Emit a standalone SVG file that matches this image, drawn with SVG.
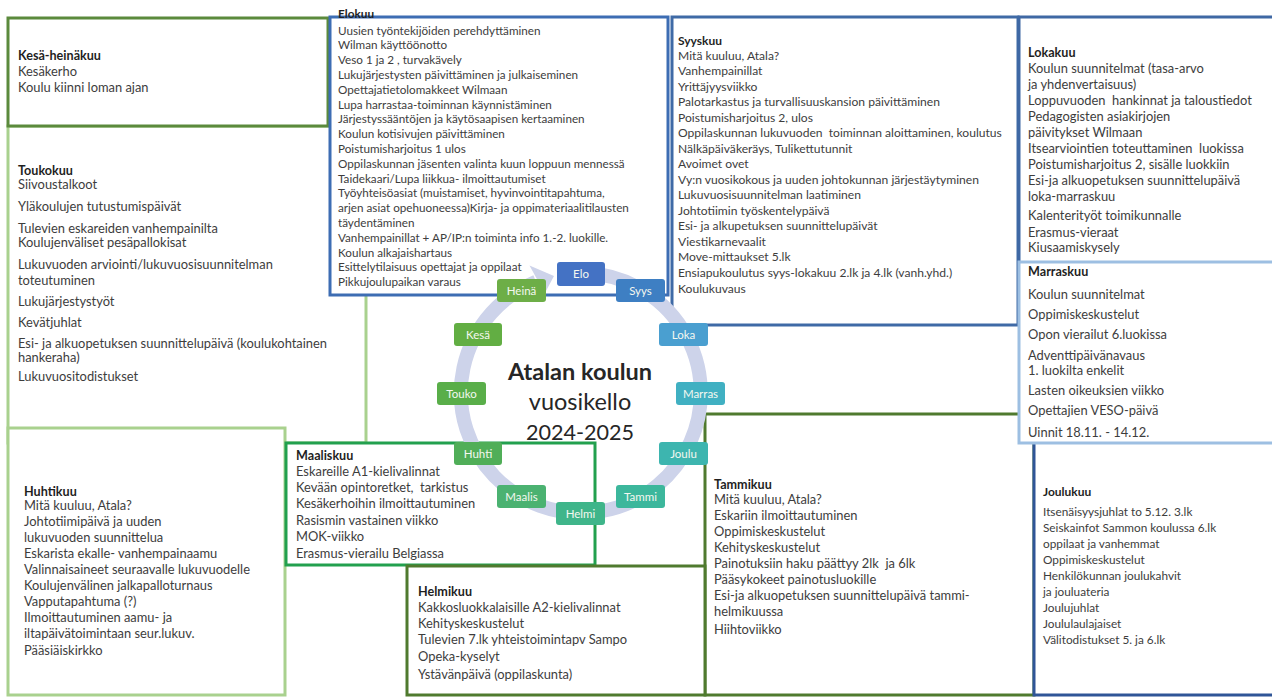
<svg xmlns="http://www.w3.org/2000/svg" width="1272" height="697" viewBox="0 0 1272 697">
<style>
.box{fill:#ffffff;stroke-width:3}
.t{font-family:Lato,"Liberation Sans",sans-serif;font-size:12.9px;fill:#3d3d3d}
.h{font-family:Lato,"Liberation Sans",sans-serif;font-size:12.6px;font-weight:bold;fill:#1f1f1f}
.nd{stroke:none}
.nl{font-family:Lato,"Liberation Sans",sans-serif;font-size:11.5px;fill:#f4f8f0;text-anchor:middle}
.ttl{font-family:Lato,"Liberation Sans",sans-serif;fill:#262626;text-anchor:middle}
</style>
<rect width="1272" height="697" fill="#ffffff"/>

<g id="toukokuu">
<rect class="box" x="8" y="126" width="358" height="317" stroke="#a9d18e"/>
<text class="h" x="18" y="175">Toukokuu</text>
<text class="t"><tspan x="18" y="188.5">Siivoustalkoot</tspan><tspan x="18" y="210.5">Yläkoulujen tutustumispäivät</tspan><tspan x="18" y="232.5">Tulevien eskareiden vanhempainilta</tspan><tspan x="18" y="247">Koulujenväliset pesäpallokisat</tspan><tspan x="18" y="268.5">Lukuvuoden arviointi/lukuvuosisuunnitelman</tspan><tspan x="18" y="284.5">toteutuminen</tspan><tspan x="18" y="305.5">Lukujärjestystyöt</tspan><tspan x="18" y="326.5">Kevätjuhlat</tspan><tspan x="18" y="347.5">Esi- ja alkuopetuksen suunnittelupäivä (koulukohtainen</tspan><tspan x="18" y="361.5">hankeraha)</tspan><tspan x="18" y="380.5">Lukuvuositodistukset</tspan></text>
</g>

<g id="kesa-heinakuu">
<rect class="box" x="8" y="18" width="320" height="108" stroke="#5b8a3c"/>
<text class="h" x="18" y="59.5">Kesä-heinäkuu</text>
<text class="t"><tspan x="18" y="75.5">Kesäkerho</tspan><tspan x="18" y="92">Koulu kiinni loman ajan</tspan></text>
</g>

<g id="huhtikuu">
<rect class="box" x="8" y="428" width="277" height="267" stroke="#a9d18e" stroke-width="2.5"/>
<text class="h" x="24" y="495.5">Huhtikuu</text>
<text class="t"><tspan x="24" y="509.5">Mitä kuuluu, Atala?</tspan><tspan x="24" y="525.5">Johtotiimipäivä ja uuden</tspan><tspan x="24" y="541.5">lukuvuoden suunnittelua</tspan><tspan x="24" y="557.5">Eskarista ekalle- vanhempainaamu</tspan><tspan x="24" y="573.5">Valinnaisaineet seuraavalle lukuvuodelle</tspan><tspan x="24" y="589.5">Koulujenvälinen jalkapalloturnaus</tspan><tspan x="24" y="605.5">Vapputapahtuma (?)</tspan><tspan x="24" y="621.5">Ilmoittautuminen aamu- ja</tspan><tspan x="24" y="637.5">iltapäivätoimintaan seur.lukuv.</tspan><tspan x="24" y="654.5">Pääsiäiskirkko</tspan></text>
</g>

<g id="elokuu">
<rect class="box" x="330" y="17" width="338" height="278" stroke="#3d6db3"/>
<text class="h" x="338" y="18" style="font-size:11.8px">Elokuu</text>
<text class="t" style="font-size:11.7px"><tspan x="338" y="34.5">Uusien työntekijöiden perehdyttäminen</tspan><tspan x="338" y="49.3">Wilman käyttöönotto</tspan><tspan x="338" y="64.1">Veso 1 ja 2 , turvakävely</tspan><tspan x="338" y="78.9">Lukujärjestysten päivittäminen ja julkaiseminen</tspan><tspan x="338" y="93.7">Opettajatietolomakkeet Wilmaan</tspan><tspan x="338" y="108.5">Lupa harrastaa-toiminnan käynnistäminen</tspan><tspan x="338" y="123.3">Järjestyssääntöjen ja käytösaapisen kertaaminen</tspan><tspan x="338" y="138.1">Koulun kotisivujen päivittäminen</tspan><tspan x="338" y="152.9">Poistumisharjoitus 1 ulos</tspan><tspan x="338" y="167.7">Oppilaskunnan jäsenten valinta kuun loppuun mennessä</tspan><tspan x="338" y="182.5">Taidekaari/Lupa liikkua- ilmoittautumiset</tspan><tspan x="338" y="197.3">Työyhteisöasiat (muistamiset, hyvinvointitapahtuma,</tspan><tspan x="338" y="212.1">arjen asiat opehuoneessa)Kirja- ja oppimateriaalitilausten</tspan><tspan x="338" y="226.9">täydentäminen</tspan><tspan x="338" y="241.7">Vanhempainillat + AP/IP:n toiminta info 1.-2. luokille.</tspan><tspan x="338" y="256.5">Koulun alkajaishartaus</tspan><tspan x="338" y="271.3">Esittelytilaisuus opettajat ja oppilaat</tspan><tspan x="338" y="286.1">Pikkujoulupaikan varaus</tspan></text>
</g>

<g id="syyskuu">
<rect class="box" x="672" y="17" width="346" height="308" stroke="#3f6aa6"/>
<text class="h" x="678" y="44.5" style="font-size:12px">Syyskuu</text>
<text class="t" style="font-size:12.1px" xml:space="preserve"><tspan x="678" y="59.5">Mitä kuuluu, Atala?</tspan><tspan x="678" y="75">Vanhempainillat</tspan><tspan x="678" y="90.5">Yrittäjyysviikko</tspan><tspan x="678" y="106">Palotarkastus ja turvallisuuskansion päivittäminen</tspan><tspan x="678" y="121.5">Poistumisharjoitus 2, ulos</tspan><tspan x="678" y="137">Oppilaskunnan lukuvuoden  toiminnan aloittaminen, koulutus</tspan><tspan x="678" y="152.5">Nälkäpäiväkeräys, Tulikettutunnit</tspan><tspan x="678" y="168">Avoimet ovet</tspan><tspan x="678" y="183.5">Vy:n vuosikokous ja uuden johtokunnan järjestäytyminen</tspan><tspan x="678" y="199">Lukuvuosisuunnitelman laatiminen</tspan><tspan x="678" y="214.5">Johtotiimin työskentelypäivä</tspan><tspan x="678" y="230">Esi- ja alkupetuksen suunnittelupäivät</tspan><tspan x="678" y="245.5">Viestikarnevaalit</tspan><tspan x="678" y="261">Move-mittaukset 5.lk</tspan><tspan x="678" y="276.5">Ensiapukoulutus syys-lokakuu 2.lk ja 4.lk (vanh.yhd.)</tspan><tspan x="678" y="293">Koulukuvaus</tspan></text>
</g>

<g id="lokakuu">
<rect class="box" x="1019" y="17" width="260" height="250" stroke="#3f68a4" fill="#fcfdfd"/>
<text class="h" x="1028" y="56.5">Lokakuu</text>
<text class="t" xml:space="preserve"><tspan x="1028" y="72.5">Koulun suunnitelmat (tasa-arvo</tspan><tspan x="1028" y="88.5">ja yhdenvertaisuus)</tspan><tspan x="1028" y="104.5">Loppuvuoden  hankinnat ja taloustiedot</tspan><tspan x="1028" y="120.5">Pedagogisten asiakirjojen</tspan><tspan x="1028" y="136.5">päivitykset Wilmaan</tspan><tspan x="1028" y="152.5">Itsearviointien toteuttaminen  luokissa</tspan><tspan x="1028" y="168.5">Poistumisharjoitus 2, sisälle luokkiin</tspan><tspan x="1028" y="184.5">Esi-ja alkuopetuksen suunnittelupäivä</tspan><tspan x="1028" y="200.5">loka-marraskuu</tspan><tspan x="1028" y="219.5">Kalenterityöt toimikunnalle</tspan><tspan x="1028" y="236.5">Erasmus-vieraat</tspan><tspan x="1028" y="251.5">Kiusaamiskysely</tspan></text>
</g>

<g id="tammikuu">
<rect class="box" x="705" y="414" width="329" height="281" stroke="#4f7a2e"/>
<text class="h" x="714" y="488.5">Tammikuu</text>
<text class="t" xml:space="preserve"><tspan x="714" y="503.5">Mitä kuuluu, Atala?</tspan><tspan x="714" y="519.5">Eskariin ilmoittautuminen</tspan><tspan x="714" y="535.5">Oppimiskeskustelut</tspan><tspan x="714" y="551.5">Kehityskeskustelut</tspan><tspan x="714" y="567.5">Painotuksiin haku päättyy 2lk  ja 6lk</tspan><tspan x="714" y="583.5">Pääsykokeet painotusluokille</tspan><tspan x="714" y="599.5">Esi-ja alkuopetuksen suunnittelupäivä tammi-</tspan><tspan x="714" y="615.5">helmikuussa</tspan><tspan x="714" y="633.5">Hiihtoviikko</tspan></text>
</g>

<g id="joulukuu">
<rect class="box" x="1034" y="438" width="250" height="257" stroke="#2f5597" stroke-width="2.5"/>
<text class="h" x="1043" y="495.5" style="font-size:12px">Joulukuu</text>
<text class="t" style="font-size:11.8px"><tspan x="1043" y="515.5">Itsenäisyysjuhlat to 5.12. 3.lk</tspan><tspan x="1043" y="531.5">Seiskainfot Sammon koulussa 6.lk</tspan><tspan x="1043" y="547.5">oppilaat ja vanhemmat</tspan><tspan x="1043" y="563.5">Oppimiskeskustelut</tspan><tspan x="1043" y="579.5">Henkilökunnan joulukahvit</tspan><tspan x="1043" y="595.5">ja jouluateria</tspan><tspan x="1043" y="611.5">Joulujuhlat</tspan><tspan x="1043" y="627.5">Joululaulajaiset</tspan><tspan x="1043" y="643.5">Välitodistukset 5. ja 6.lk</tspan></text>
</g>

<g id="marraskuu">
<rect class="box" x="1019" y="262" width="260" height="181" stroke="#9dbfe2"/>
<text class="h" x="1028" y="275.5">Marraskuu</text>
<text class="t"><tspan x="1028" y="298.5">Koulun suunnitelmat</tspan><tspan x="1028" y="318.5">Oppimiskeskustelut</tspan><tspan x="1028" y="338.5">Opon vierailut 6.luokissa</tspan><tspan x="1028" y="359.5">Adventtipäivänavaus</tspan><tspan x="1028" y="374.5">1. luokilta enkelit</tspan><tspan x="1028" y="394.5">Lasten oikeuksien viikko</tspan><tspan x="1028" y="414.5">Opettajien VESO-päivä</tspan><tspan x="1028" y="436.5">Uinnit 18.11. - 14.12.</tspan></text>
</g>

<g id="maaliskuu">
<rect class="box" x="286" y="443" width="309" height="122" stroke="#22a04e"/>
<text class="h" x="296" y="459.5">Maaliskuu</text>
<text class="t" xml:space="preserve"><tspan x="296" y="475.5">Eskareille A1-kielivalinnat</tspan><tspan x="296" y="491.5">Kevään opintoretket,  tarkistus</tspan><tspan x="296" y="507.5">Kesäkerhoihin ilmoittautuminen</tspan><tspan x="296" y="524.5">Rasismin vastainen viikko</tspan><tspan x="296" y="540.5">MOK-viikko</tspan><tspan x="296" y="557.5">Erasmus-vierailu Belgiassa</tspan></text>
</g>

<g id="helmikuu">
<rect class="box" x="407" y="566" width="298" height="129" stroke="#4f7a2e"/>
<text class="h" x="418" y="595.5">Helmikuu</text>
<text class="t"><tspan x="418" y="611.5">Kakkosluokkalaisille A2-kielivalinnat</tspan><tspan x="418" y="627.5">Kehityskeskustelut</tspan><tspan x="418" y="643.5">Tulevien 7.lk yhteistoimintapv Sampo</tspan><tspan x="418" y="660.5">Opeka-kyselyt</tspan><tspan x="418" y="678.5">Ystävänpäivä (oppilaskunta)</tspan></text>
</g>

<g id="connectors">
<path d="M585.2 273.1 A120 120 0 1 1 536.0 281.7" fill="none" stroke="#cdd3ea" stroke-width="14"/>
<polygon points="529.5,265.5 554,276 542.5,297.5 538,281" fill="#cdd3ea"/>
</g>

<g id="title">
<text class="ttl" x="580" y="380" font-size="23.5" font-weight="bold">Atalan koulun</text>
<text class="ttl" x="580" y="410" font-size="23.5">vuosikello</text>
<text class="ttl" x="580" y="440" font-size="21.6">2024-2025</text>
</g>

<g id="node-elo"><rect class="nd" x="557" y="262" width="48" height="24" rx="3" fill="#4472c4"/><text class="nl" x="581" y="278">Elo</text></g>
<g id="node-syys"><rect class="nd" x="616" y="279" width="49" height="23" rx="3" fill="#3e7fc3"/><text class="nl" x="640.5" y="295">Syys</text></g>
<g id="node-loka"><rect class="nd" x="659" y="323" width="49" height="23" rx="3" fill="#4a9fd0"/><text class="nl" x="683.5" y="339">Loka</text></g>
<g id="node-marras"><rect class="nd" x="676" y="382" width="49" height="23" rx="3" fill="#40b0c2"/><text class="nl" x="700.5" y="398">Marras</text></g>
<g id="node-joulu"><rect class="nd" x="659" y="442" width="49" height="23" rx="3" fill="#3db5af"/><text class="nl" x="683.5" y="458">Joulu</text></g>
<g id="node-tammi"><rect class="nd" x="616" y="485" width="49" height="23" rx="3" fill="#3cb79c"/><text class="nl" x="640.5" y="501">Tammi</text></g>
<g id="node-helmi"><rect class="nd" x="556" y="502" width="49" height="23" rx="3" fill="#3fb58a"/><text class="nl" x="580.5" y="518">Helmi</text></g>
<g id="node-maalis"><rect class="nd" x="497" y="485" width="49" height="23" rx="3" fill="#4bb271"/><text class="nl" x="521.5" y="501">Maalis</text></g>
<g id="node-huhti"><rect class="nd" x="454" y="442" width="48" height="23" rx="3" fill="#50ae58"/><text class="nl" x="478" y="458">Huhti</text></g>
<g id="node-touko"><rect class="nd" x="437" y="382" width="49" height="23" rx="3" fill="#59ae49"/><text class="nl" x="461.5" y="398">Touko</text></g>
<g id="node-kesa"><rect class="nd" x="454" y="323" width="48" height="23" rx="3" fill="#62ae43"/><text class="nl" x="478" y="339">Kesä</text></g>
<g id="node-heina"><rect class="nd" x="497" y="279" width="49" height="23" rx="3" fill="#6dae47"/><text class="nl" x="521.5" y="295">Heinä</text></g>
</svg>
